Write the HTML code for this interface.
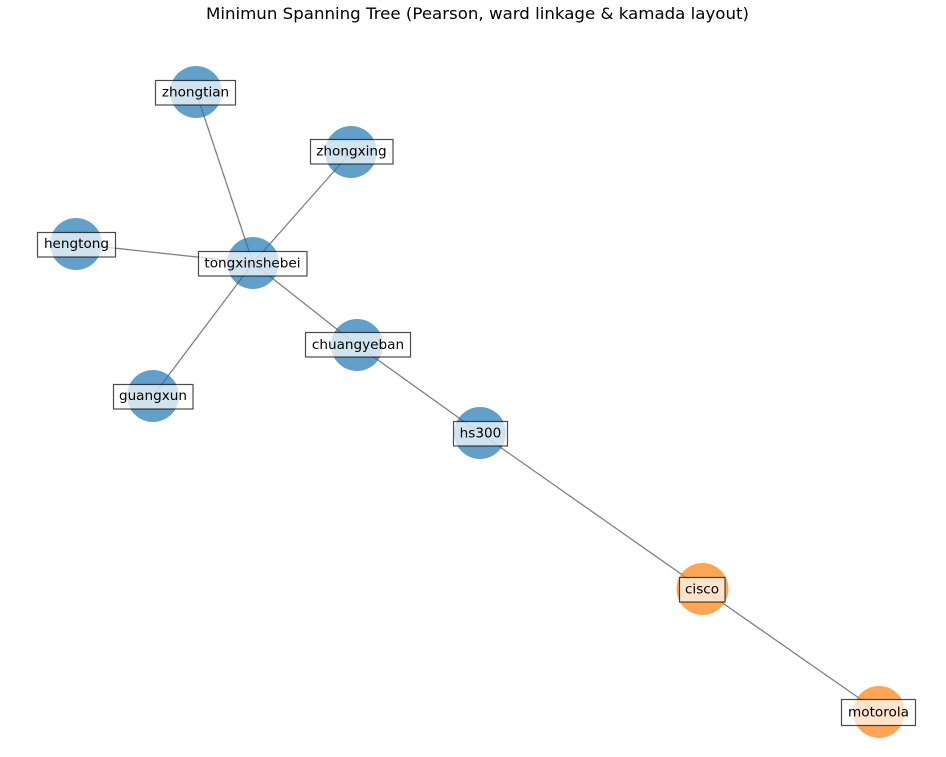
<!DOCTYPE html>
<html>
<head>
<meta charset="utf-8">
<style>
html,body{margin:0;padding:0;background:#fff;}
svg{display:block;}
text{font-family:"DejaVu Sans","Liberation Sans",sans-serif;fill:#000;}
</style>
</head>
<body>
<svg width="946" height="757" viewBox="0 0 946 757" xmlns="http://www.w3.org/2000/svg">
<rect width="946" height="757" fill="#fff"/>
<text x="477.5" y="19" font-size="16.3" text-anchor="middle" textLength="543" lengthAdjust="spacingAndGlyphs">Minimun Spanning Tree (Pearson, ward linkage &amp; kamada layout)</text>

<g stroke="#808080" stroke-width="1.3" fill="none">
<line x1="253" y1="263" x2="196" y2="92"/>
<line x1="253" y1="263" x2="351" y2="152"/>
<line x1="253" y1="263" x2="76" y2="244"/>
<line x1="253" y1="263" x2="153" y2="396"/>
<line x1="253" y1="263" x2="357" y2="345"/>
<line x1="357" y1="345" x2="480" y2="433"/>
<line x1="480" y1="433" x2="702.5" y2="589"/>
<line x1="702.5" y1="589" x2="879" y2="712"/>
</g>

<g fill="#1f77b4" fill-opacity="0.7">
<circle cx="196" cy="92" r="26"/>
<circle cx="351" cy="152" r="26"/>
<circle cx="253" cy="263" r="26"/>
<circle cx="76" cy="244" r="26"/>
<circle cx="153" cy="396" r="26"/>
<circle cx="357" cy="345" r="26"/>
<circle cx="480" cy="433" r="26"/>
</g>
<g fill="#ff7f0e" fill-opacity="0.7">
<circle cx="702.5" cy="589" r="26"/>
<circle cx="879" cy="712" r="26"/>
</g>

<g fill="#fff" fill-opacity="0.7" stroke="#000" stroke-opacity="0.7" stroke-width="1.2">
<rect x="155.5" y="80.5" width="80" height="24.5"/>
<rect x="310.5" y="139.5" width="82.5" height="24.5"/>
<rect x="198.5" y="251.5" width="108.5" height="24.5"/>
<rect x="37.5" y="232.5" width="78" height="24.5"/>
<rect x="113.5" y="384.5" width="79.5" height="24.5"/>
<rect x="305.5" y="332.5" width="105" height="24.5"/>
<rect x="453.5" y="421.5" width="54" height="24.5"/>
<rect x="679.5" y="577.5" width="45.5" height="24.5"/>
<rect x="841.5" y="699.5" width="74" height="26"/>
</g>

<g font-size="13.6" text-anchor="middle">
<text x="195.5" y="96.5">zhongtian</text>
<text x="351.5" y="155.5">zhongxing</text>
<text x="252.5" y="267.5">tongxinshebei</text>
<text x="76.5" y="248">hengtong</text>
<text x="153" y="400">guangxun</text>
<text x="358" y="349">chuangyeban</text>
<text x="480.5" y="437.5">hs300</text>
<text x="702" y="593.5">cisco</text>
<text x="878.5" y="716.5">motorola</text>
</g>
</svg>
</body>
</html>
